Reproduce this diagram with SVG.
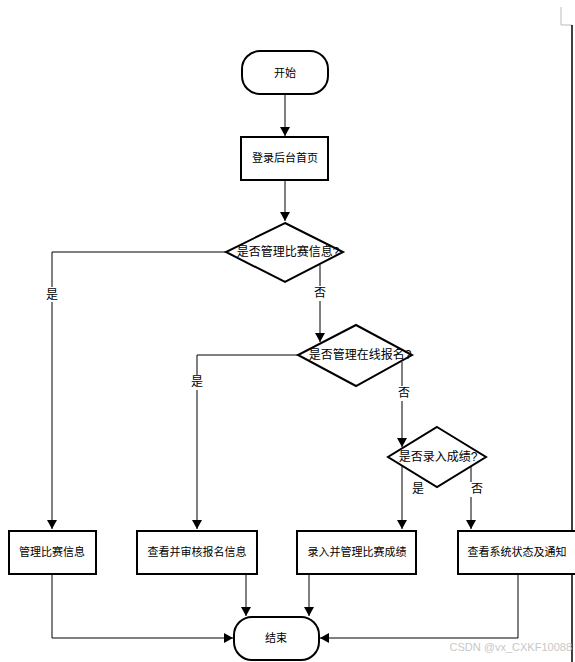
<svg xmlns="http://www.w3.org/2000/svg" width="575" height="662" viewBox="0 0 575 662">
<style>
.n{fill:#fff;stroke:#000;stroke-width:2}
.t{font-family:"Liberation Sans","Noto Sans CJK SC",sans-serif;font-size:11px;fill:#000;text-anchor:middle;dominant-baseline:central}
.d{font-size:12px}
.c{fill:none;stroke:#000;stroke-width:1}
.lb{fill:#fff}
</style>
<defs>
<marker id="a" markerWidth="10" markerHeight="10" refX="9" refY="5" orient="auto" markerUnits="userSpaceOnUse">
<path d="M0,0 L9,5 L0,10 Z" fill="#000"/>
</marker>
</defs>
<rect width="575" height="662" fill="#fff"/>
<path d="M561,7 V25 H572" fill="none" stroke="#bbb" stroke-width="1"/>
<path d="M572,25 V662" fill="none" stroke="#000" stroke-width="1.5"/>
<g id="connectors">
<path class="c" d="M285,94 V136" marker-end="url(#a)"/>
<path class="c" d="M285,180 V221" marker-end="url(#a)"/>
<path class="c" d="M226,252 H52 V529" marker-end="url(#a)"/>
<path class="c" d="M320,265 V342" marker-end="url(#a)"/>
<path class="c" d="M298,355 H197 V529" marker-end="url(#a)"/>
<path class="c" d="M402,362 V447" marker-end="url(#a)"/>
<path class="c" d="M402,466 V529" marker-end="url(#a)"/>
<path class="c" d="M471,466 V529" marker-end="url(#a)"/>
<path class="c" d="M52,574 V638 H233" marker-end="url(#a)"/>
<path class="c" d="M246,574 V616" marker-end="url(#a)"/>
<path class="c" d="M309,574 V616" marker-end="url(#a)"/>
<path class="c" d="M518,574 V638 H320" marker-end="url(#a)"/>
<rect class="lb" x="45" y="287" width="14" height="15"/>
<text class="t d" x="52" y="295">是</text>
<rect class="lb" x="313" y="286" width="14" height="15"/>
<text class="t d" x="320" y="293">否</text>
<rect class="lb" x="190" y="375" width="14" height="15"/>
<text class="t d" x="197" y="382">是</text>
<rect class="lb" x="397" y="386" width="14" height="15"/>
<text class="t d" x="404" y="393">否</text>
<text class="t d" x="418" y="489">是</text>
<rect class="lb" x="470" y="482" width="13" height="15"/>
<text class="t d" x="477" y="489">否</text>
</g>
<g id="start">
<rect class="n" x="242" y="51" width="86" height="43" rx="18"/>
<text class="t" x="285" y="73">开始</text>
</g>
<g id="login">
<rect class="n" x="241" y="137" width="87" height="43"/>
<text class="t" x="285" y="158">登录后台首页</text>
</g>
<g id="d1">
<polygon class="n" points="285,223 343,252 285,282 226,252"/>
<text class="t d" x="288" y="252">是否管理比赛信息?</text>
</g>
<g id="d2">
<polygon class="n" points="356,325 412,355 356,386 298,355"/>
<text class="t d" x="360" y="355">是否管理在线报名?</text>
</g>
<g id="d3">
<polygon class="n" points="437,427 486,457 437,487 388,457"/>
<text class="t d" x="438" y="457">是否录入成绩?</text>
</g>
<g id="b1">
<rect class="n" x="9" y="531" width="87" height="43"/>
<text class="t" x="52" y="552">管理比赛信息</text>
</g>
<g id="b2">
<rect class="n" x="137" y="531" width="120" height="43"/>
<text class="t" x="197" y="552">查看并审核报名信息</text>
</g>
<g id="b3">
<rect class="n" x="297" y="531" width="119" height="43"/>
<text class="t" x="357" y="552">录入并管理比赛成绩</text>
</g>
<g id="b4">
<rect class="n" x="458" y="531" width="118" height="43"/>
<text class="t" x="517" y="552">查看系统状态及通知</text>
</g>
<g id="end">
<rect class="n" x="234" y="617" width="85" height="43" rx="18"/>
<text class="t" x="276" y="638">结束</text>
</g>
<text x="572" y="651" font-family="Liberation Sans, sans-serif" font-size="11" fill="#c8c8c8" text-anchor="end">CSDN @vx_CXKF10088</text>
</svg>
